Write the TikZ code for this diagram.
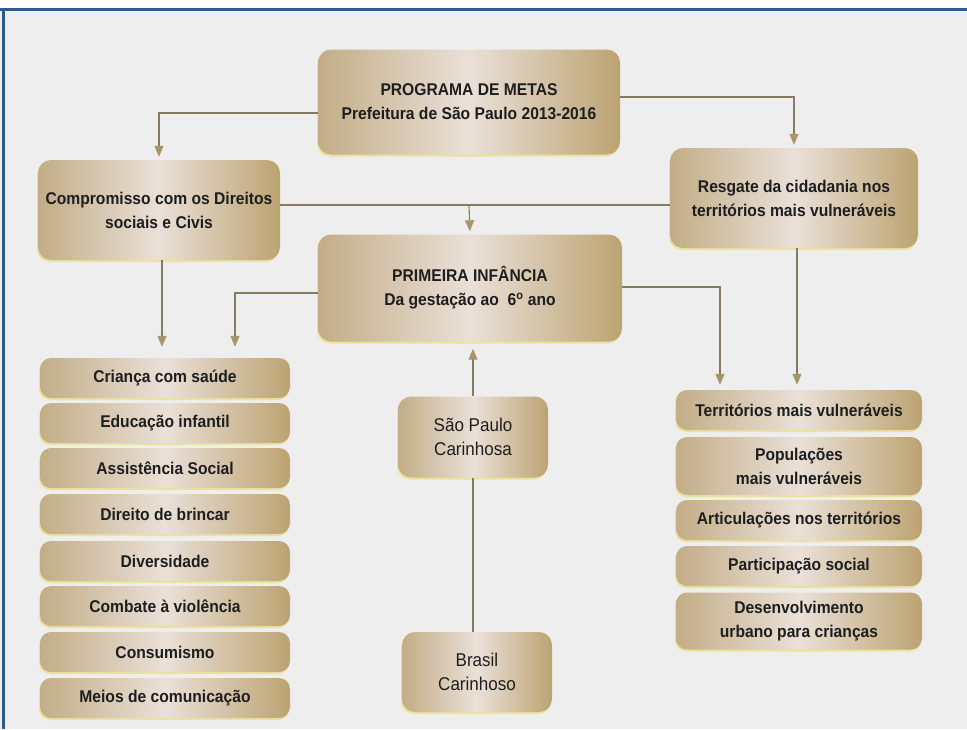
\documentclass[tikz,border=0pt]{standalone}
\usepackage{fontspec}
\setmainfont[FakeStretch=0.92]{Liberation Sans}
\usetikzlibrary{arrows.meta,shadows,calc}
\definecolor{paper}{HTML}{EFEEEF}
\definecolor{frameblue}{HTML}{2C5B8E}
\definecolor{tanL}{HTML}{C2AD86}
\definecolor{tanM}{HTML}{EAE0D8}
\definecolor{tanR}{HTML}{BCA372}
\definecolor{lnc}{HTML}{857B63}
\definecolor{arrc}{HTML}{A8956A}
\definecolor{txt}{HTML}{1E1E1E}
\tikzset{
  box/.style={rounded corners=13pt, left color=tanL, right color=tanR, middle color=tanM,
     align=center, text=txt, font=\fontsize{17}{24}\selectfont\bfseries, inner sep=0pt,
     drop shadow={shadow xshift=-1pt, shadow yshift=-2pt, fill=yellow!60!tanL, opacity=0.5}},
  listbox/.style={box, rounded corners=11pt, minimum width=250pt, minimum height=40pt},
  rlistbox/.style={box, rounded corners=11pt, minimum width=246pt},
  plainbox/.style={box, font=\fontsize{18.5}{24}\selectfont, minimum width=150pt, minimum height=80pt},
  ln/.style={draw=lnc, line width=1.1pt},
  arr/.style={ln, -{Triangle[length=11pt,width=9pt,color=arrc]}},
}
\begin{document}
\begin{tikzpicture}[x=1pt,y=-1pt]
\fill[paper] (0,0) rectangle (967,729);
\useasboundingbox (0,0) rectangle (967,729);
\fill[white] (0,0) rectangle (967,8);
\fill[frameblue] (0,8) rectangle (967,11);
\fill[frameblue] (2,8) rectangle (5,729);

\node[box, minimum width=302pt, minimum height=105pt] (top) at (469,102)
  {PROGRAMA DE METAS\\Prefeitura de São Paulo 2013-2016};
\node[box, minimum width=242pt, minimum height=100pt] (comp) at (159,210)
  {Compromisso com os Direitos\\sociais e Civis};
\node[box, minimum width=248pt, minimum height=100pt] (resg) at (794,198)
  {Resgate da cidadania nos\\territórios mais vulneráveis};
\node[box, minimum width=304pt, minimum height=107pt] (prim) at (470,288)
  {PRIMEIRA INFÂNCIA\\Da gestação ao\ \ 6\textsuperscript{o} ano};
\node[plainbox, minimum height=81pt] (sp) at (473,437) {São Paulo\\Carinhosa};
\node[plainbox] (br) at (477,672) {Brasil\\Carinhoso};

\node[listbox] (c1) at (165,378) {Criança com saúde};
\node[listbox] (c2) at (165,423) {Educação infantil};
\node[listbox] (c3) at (165,468) {Assistência Social};
\node[listbox] (c4) at (165,514) {Direito de brincar};
\node[listbox] (c5) at (165,561) {Diversidade};
\node[listbox] (c6) at (165,606) {Combate à violência};
\node[listbox] (c7) at (165,652) {Consumismo};
\node[listbox] (c8) at (165,698) {Meios de comunicação};

\node[rlistbox, minimum height=40pt] (r1) at (799,410) {Territórios mais vulneráveis};
\node[rlistbox, minimum height=58pt] (r2) at (799,466) {Populações\\mais vulneráveis};
\node[rlistbox, minimum height=40pt] (r3) at (799,520) {Articulações nos territórios};
\node[rlistbox, minimum height=40pt] (r4) at (799,566) {Participação social};
\node[rlistbox, minimum height=57pt] (r5) at (799,621) {Desenvolvimento\\urbano para crianças};

\coordinate (j) at (469,205);
\draw[arr] ([yshift=-11pt]top.west) -| ([yshift=3pt]comp.north);
\draw[arr] ([yshift=5pt]top.east) -| ([yshift=3pt]resg.north);
\draw[ln] (comp.east |- j) -- (resg.west |- j);
\draw[arr, shorten >=3pt] (j) -- (prim.north);
\draw[arr, shorten >=11pt] ([xshift=3pt]comp.south) -- ([xshift=3pt]comp.south |- c1.north);
\draw[arr] ([yshift=-5pt]prim.west) -| ([xshift=70pt,yshift=11pt]c1.north);
\draw[arr] ([yshift=1pt]prim.east) -| ([xshift=-79pt,yshift=5pt]r1.north);
\draw[arr, shorten >=5pt] ([xshift=3pt]resg.south) -- ([xshift=3pt]resg.south |- r1.north);
\draw[arr, shorten >=7pt] (sp.north) -- (sp.north |- prim.south);
\draw[ln] (sp.south) -- (sp.south |- br.north);
\end{tikzpicture}
\end{document}
